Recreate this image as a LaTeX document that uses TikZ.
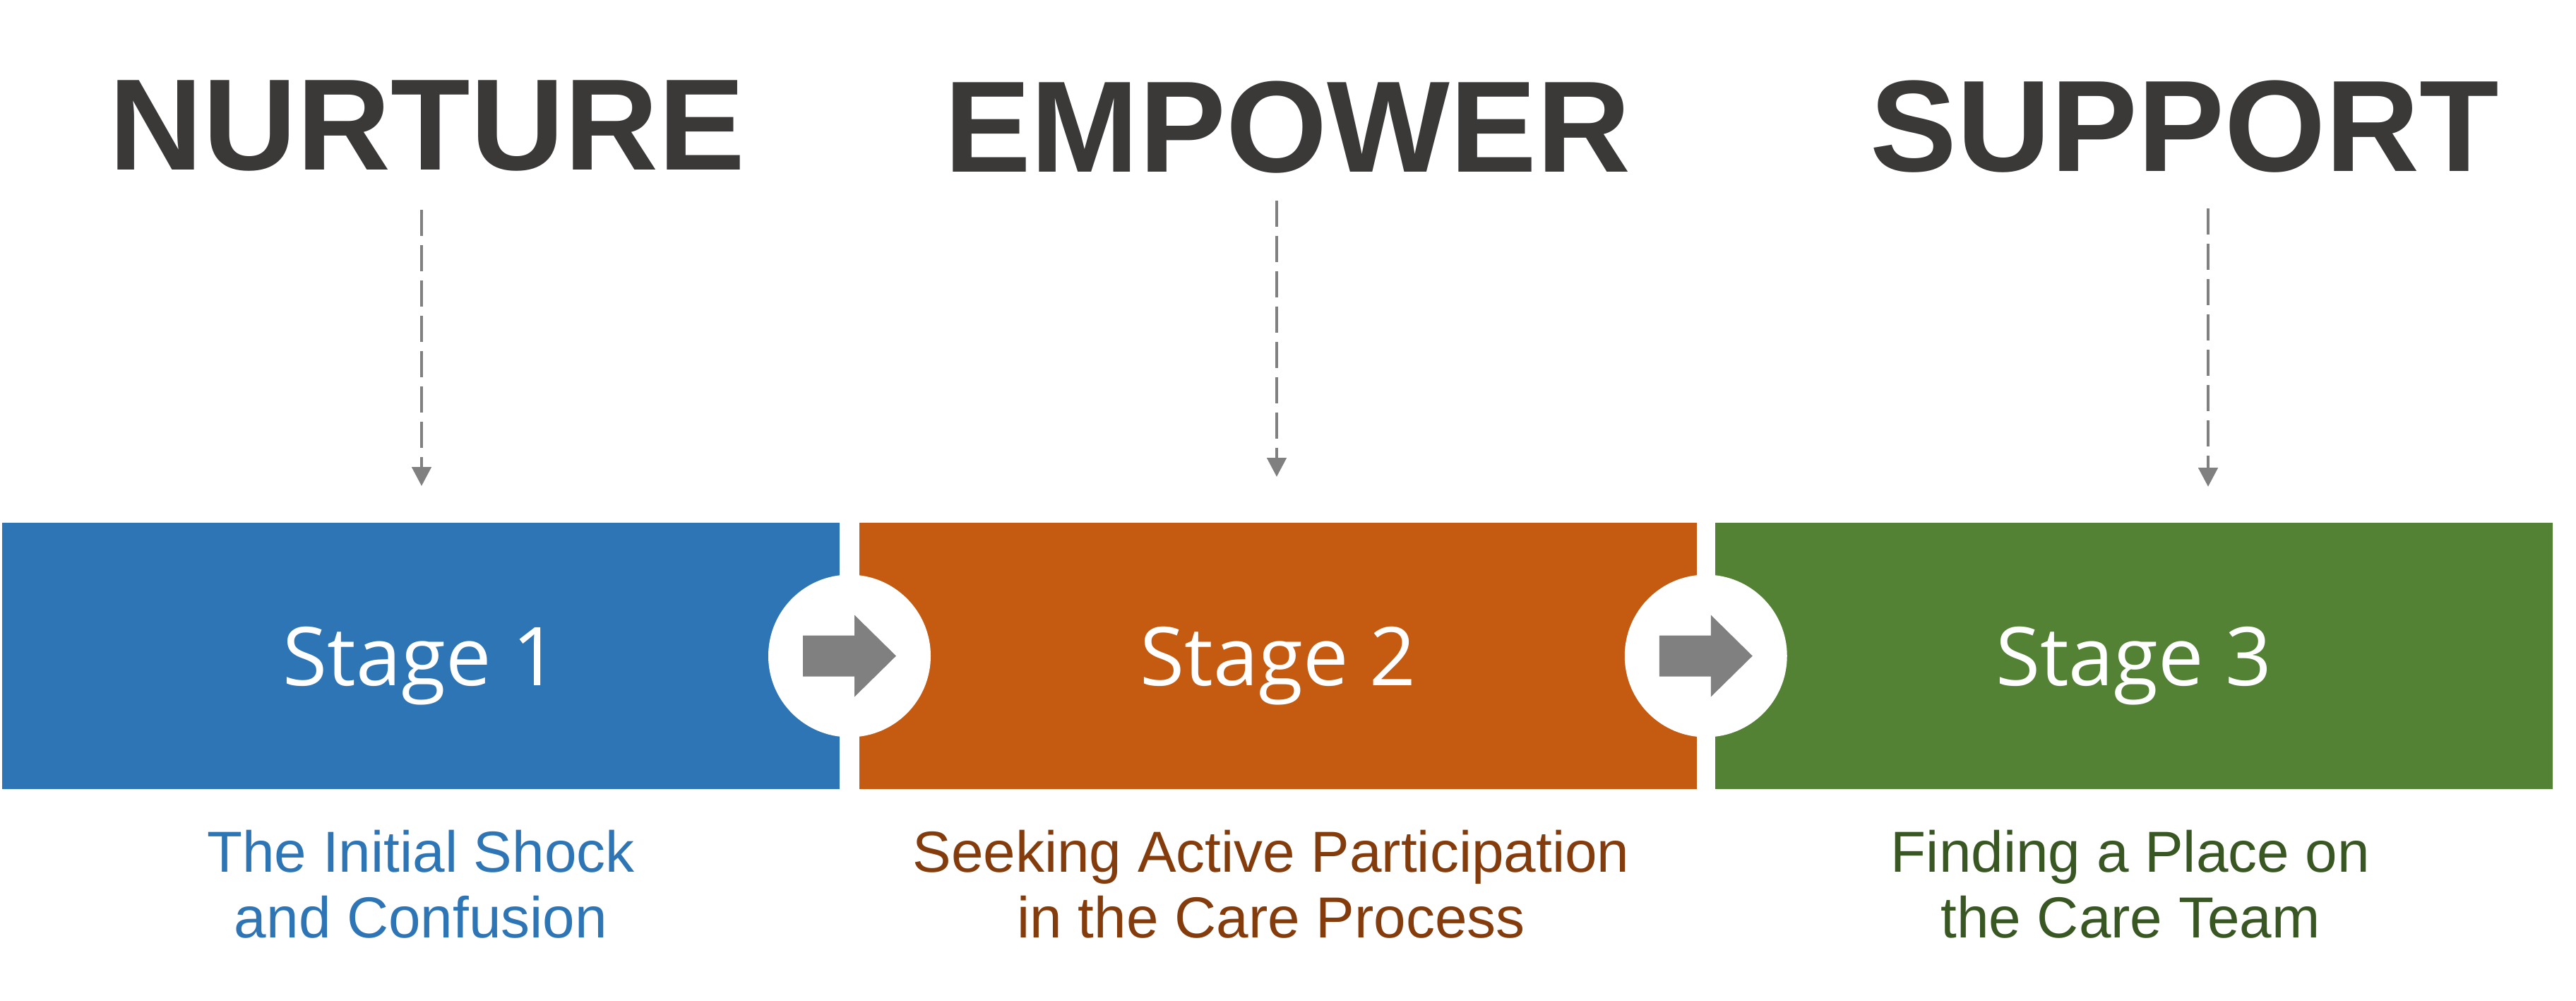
\documentclass[tikz,border=0pt]{standalone}
\usepackage{fontspec}
\setmainfont{Liberation Sans}
\newfontfamily\stagefont{Open Sans}
\usetikzlibrary{arrows.meta,positioning,calc}
\definecolor{nurture}{HTML}{2E75B6}
\definecolor{empower}{HTML}{C55A11}
\definecolor{support}{HTML}{548235}
\definecolor{nurturetext}{HTML}{2E75B6}
\definecolor{empowertext}{HTML}{843C0C}
\definecolor{supporttext}{HTML}{385723}
\definecolor{headline}{HTML}{3B3838}
\definecolor{neutral}{HTML}{808080}

\begin{document}
\begin{tikzpicture}[
  stagebox/.style={rectangle, minimum width=11.86cm, minimum height=3.77cm, inner sep=0,
    text depth=0pt, text=white, font=\stagefont\fontsize{32.7}{36}\selectfont},
  joint/.style={circle, fill=white, minimum size=2.30cm, inner sep=0},
  headword/.style={anchor=base, inner sep=0, text=headline,
    font=\bfseries\fontsize{52.4}{60}\selectfont},
  caption/.style={anchor=north, inner sep=0, align=center,
    font=\fontsize{23.3}{26.5}\selectfont},
  guide/.style={neutral, line width=1.4pt, dash pattern=on 0.37cm off 0.13cm,
    -{Triangle[width=0.27cm,length=0.27cm]}}
]
  \useasboundingbox (0,0) rectangle (36.48,-14.16);

  % stages
  \node[stagebox, fill=nurture] (s1) at (5.96,-9.285) {Stage 1};
  \node[stagebox, fill=empower] (s2) at (18.10,-9.285) {Stage 2};
  \node[stagebox, fill=support] (s3) at (30.215,-9.285) {Stage 3};

  % joints with block arrows
  \node[joint] (j1) at ($(s1.east)!0.5!(s2.west)$) {};
  \node[joint] (j2) at ($(s2.east)!0.5!(s3.west)$) {};
  \foreach \j in {j1,j2} {
    \fill[neutral] ($(\j)+(-0.66,0.29)$) -- ($(\j)+(0.07,0.29)$) -- ($(\j)+(0.07,0.58)$)
      -- ($(\j)+(0.66,0)$) -- ($(\j)+(0.07,-0.58)$) -- ($(\j)+(0.07,-0.29)$)
      -- ($(\j)+(-0.66,-0.29)$) -- cycle;
  }

  % headwords
  \node[headword] (h1) at (6.05,-2.40) {NURTURE};
  \node[headword] (h2) at (18.23,-2.43) {EMPOWER};
  \node[headword] (h3) at (30.94,-2.42) {SUPPORT};

  % guides
  \coordinate (g1a) at (5.97,-2.97);  \coordinate (g1b) at (5.97,-6.88);
  \coordinate (g2a) at (18.08,-2.84); \coordinate (g2b) at (18.08,-6.75);
  \coordinate (g3a) at (31.27,-2.95); \coordinate (g3b) at (31.27,-6.89);
  \draw[guide] (g1a) -- (g1b);
  \draw[guide] (g2a) -- (g2b);
  \draw[guide] (g3a) -- (g3b);

  % captions
  \node[caption, text=nurturetext] (c1) at (5.96,-11.74) {The Initial Shock\\and Confusion};
  \node[caption, text=empowertext] (c2) at (18.00,-11.74) {Seeking Active Participation\\in the Care Process};
  \node[caption, text=supporttext] (c3) at (30.17,-11.74) {Finding a Place on\\the Care Team};
\end{tikzpicture}
\end{document}
